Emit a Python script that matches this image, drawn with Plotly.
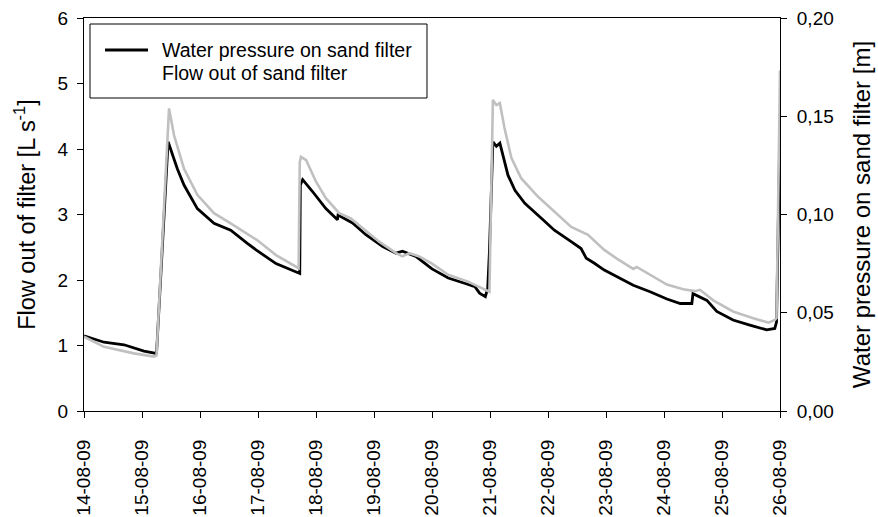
import pandas as pd
import plotly.graph_objects as go

# Time in days since 14-08-09 00:00
pressure_days = [0.0, 0.345, 0.69, 1.034, 1.236, 1.25, 1.45, 1.609, 1.724, 1.954, 2.241, 2.529,
                 2.816, 2.966, 3.31, 3.70, 3.72, 3.73, 3.77, 3.94, 4.17, 4.37, 4.38, 4.63, 4.86,
                 5.15, 5.38, 5.49, 5.72, 6.0, 6.28, 6.56, 6.74, 6.82, 6.92, 6.96, 6.99, 7.05,
                 7.11, 7.17, 7.31, 7.43, 7.60, 7.89, 8.11, 8.40, 8.57, 8.66, 8.80, 8.97, 9.18,
                 9.47, 9.76, 10.05, 10.28, 10.48, 10.50, 10.62, 10.74, 10.91, 11.19, 11.48,
                 11.77, 11.91, 11.94, 12.0]
pressure_m = [0.0383, 0.0350, 0.0337, 0.0305, 0.0293, 0.0290, 0.1370, 0.1233, 0.1150, 0.1030,
              0.0955, 0.0920, 0.0853, 0.0820, 0.0750, 0.0700, 0.0700, 0.1150, 0.1177, 0.1117,
              0.1030, 0.0973, 0.0997, 0.0957, 0.0897, 0.0837, 0.0803, 0.0813, 0.0787, 0.0723,
              0.0677, 0.0650, 0.0633, 0.0600, 0.0582, 0.0623, 0.0810, 0.1370, 0.1347, 0.1363,
              0.1200, 0.1123, 0.1057, 0.0980, 0.0920, 0.0862, 0.0827, 0.0777, 0.0752, 0.0717,
              0.0683, 0.0640, 0.0607, 0.0570, 0.0547, 0.0547, 0.0597, 0.0580, 0.0563, 0.0507,
              0.0463, 0.0437, 0.0413, 0.0420, 0.0453, 0.1450]

flow_days = [0.0, 0.345, 0.86, 1.207, 1.25, 1.466, 1.552, 1.724, 1.954, 2.241, 2.529, 2.759,
             3.0, 3.31, 3.655, 3.70, 3.72, 3.741, 3.83, 4.0, 4.17, 4.40, 4.60, 4.80, 5.09, 5.38,
             5.49, 5.61, 5.78, 6.0, 6.28, 6.62, 6.91, 6.99, 7.05, 7.11, 7.17, 7.25, 7.37, 7.54,
             7.83, 8.11, 8.40, 8.69, 8.97, 9.18, 9.47, 9.53, 9.76, 10.05, 10.33, 10.53, 10.62,
             10.85, 11.19, 11.54, 11.80, 11.91, 11.94, 12.0]
flow_lps = [1.134, 0.98, 0.88, 0.83, 0.85, 4.62, 4.21, 3.70, 3.30, 3.02, 2.865, 2.74,
            2.60, 2.38, 2.20, 2.18, 3.80, 3.88, 3.83, 3.50, 3.25, 3.02, 2.94, 2.79, 2.585, 2.41,
            2.36, 2.41, 2.36, 2.25, 2.08, 1.975, 1.85, 1.82, 4.75, 4.67, 4.70, 4.32, 3.86, 3.55,
            3.27, 3.04, 2.81, 2.69, 2.46, 2.33, 2.17, 2.20, 2.08, 1.93, 1.86, 1.83, 1.85,
            1.69, 1.52, 1.415, 1.35, 1.39, 1.42, 5.2]

flow_ticks = [0, 1, 2, 3, 4, 5, 6]
pressure_ticks = [0.0, 0.05, 0.10, 0.15, 0.20]
pressure_ticktext = ["0,00", "0,05", "0,10", "0,15", "0,20"]
legend_names = ["Water pressure on sand filter", "Flow out of sand filter"]

base = pd.Timestamp("2009-08-14")
p_time = base + pd.to_timedelta(pressure_days, unit="D")
f_time = base + pd.to_timedelta(flow_days, unit="D")

FONT = "Liberation Sans, Arial, sans-serif"

fig = go.Figure()
fig.add_trace(go.Scatter(x=p_time, y=pressure_m, mode="lines", yaxis="y",
                         line=dict(color="#000000", width=2.8),
                         name=legend_names[0], showlegend=False))
fig.add_trace(go.Scatter(x=f_time, y=flow_lps, mode="lines", yaxis="y2",
                         line=dict(color="#c0c0c0", width=2.6),
                         name=legend_names[1], showlegend=False))

# Legend box (drawn in paper coordinates)
fig.add_shape(type="rect", xref="paper", yref="paper",
              x0=0.0086, x1=0.4928, y0=0.7964, y1=0.9847,
              line=dict(color="black", width=1), fillcolor="white", layer="above")
fig.add_shape(type="line", xref="paper", yref="paper",
              x0=0.0302, x1=0.0920, y0=0.9186, y1=0.9186,
              line=dict(color="black", width=2.8), layer="above")
fig.add_annotation(xref="paper", yref="paper", x=0.1092, y=0.9186,
                   xanchor="left", yanchor="middle", showarrow=False,
                   text=legend_names[0], font=dict(size=19.5))
fig.add_annotation(xref="paper", yref="paper", x=0.1092, y=0.8601,
                   xanchor="left", yanchor="middle", showarrow=False,
                   text=legend_names[1], font=dict(size=19.5))

fig.update_layout(
    width=878, height=517,
    margin=dict(l=84, r=98, t=18, b=106),
    paper_bgcolor="white", plot_bgcolor="white",
    font=dict(family=FONT, size=19, color="black"),
    showlegend=False,
    xaxis=dict(type="date", range=[base, base + pd.Timedelta(days=12)],
               tick0=base, dtick=86400000, tickformat="%d-%m-%y", tickangle=-90,
               ticks="outside", ticklen=6, tickcolor="black", showline=True,
               linecolor="black", linewidth=1, mirror=True, showgrid=False,
               zeroline=False, automargin=False, ticklabelstandoff=14,
               ticklabeloverflow="allow", tickfont=dict(size=19)),
    yaxis=dict(side="right", range=[0, 0.20], tickvals=pressure_ticks,
               ticktext=pressure_ticktext, ticks="outside", ticklen=6,
               tickcolor="black", showline=True, linecolor="black", linewidth=1,
               showgrid=False, zeroline=False, automargin=False, ticklabelstandoff=6,
               ticklabeloverflow="allow", tickfont=dict(size=19),
               title=dict(text="Water pressure on sand filter [m]",
                          font=dict(size=24), standoff=20)),
    yaxis2=dict(side="left", overlaying="y", range=[0, 6], tickvals=flow_ticks,
                ticks="outside", ticklen=6, tickcolor="black", showline=True,
                linecolor="black", linewidth=1, showgrid=False, zeroline=False,
                automargin=False, ticklabelstandoff=5, ticklabeloverflow="allow",
                tickfont=dict(size=19),
                title=dict(text="Flow out of filter [L s<sup>-1</sup>]",
                           font=dict(size=23.5), standoff=15)),
)

fig.write_html("out.html", config={"displayModeBar": False},
               post_script="document.body.style.margin='0';document.body.style.overflow='hidden';")
